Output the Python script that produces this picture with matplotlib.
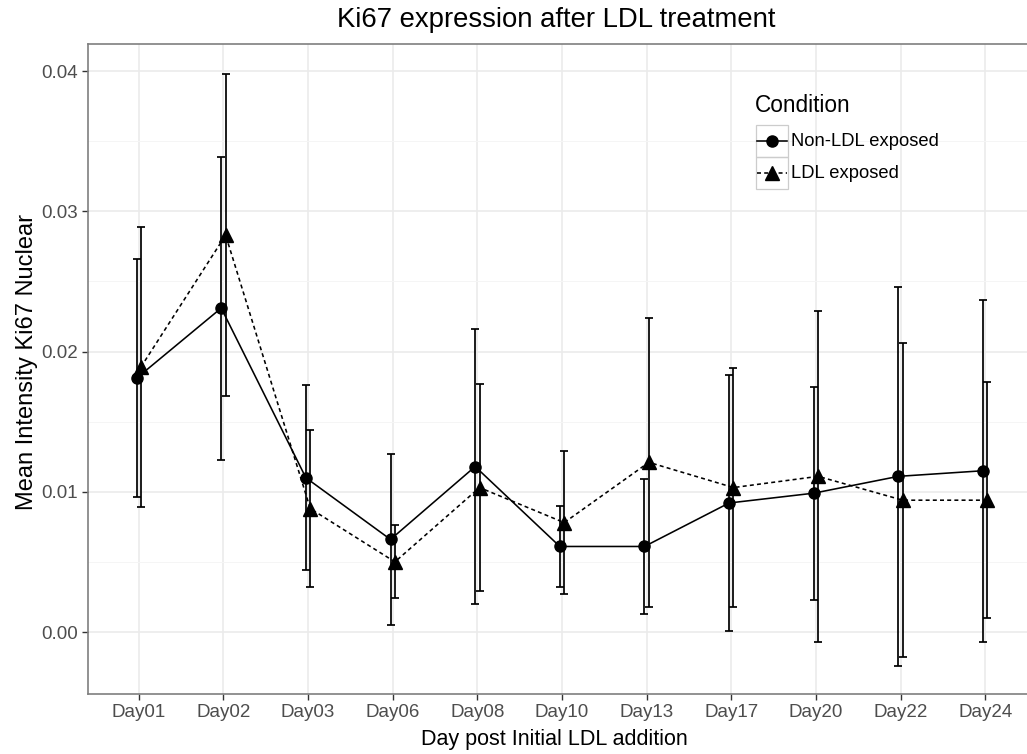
import numpy as np
import matplotlib.pyplot as plt
from matplotlib.lines import Line2D
from matplotlib.patches import Rectangle

plt.rcParams['font.family'] = ['Liberation Sans', 'DejaVu Sans']

# mean nuclear Ki67 intensity per day, with error bar half-widths
days = ['Day01', 'Day02', 'Day03', 'Day06', 'Day08', 'Day10',
        'Day13', 'Day17', 'Day20', 'Day22', 'Day24']
non_ldl_mean = [0.0181, 0.0231, 0.0110, 0.0066, 0.0118, 0.0061,
                0.0061, 0.0092, 0.0099, 0.0111, 0.0115]
non_ldl_err = [0.0085, 0.0108, 0.0066, 0.0061, 0.0098, 0.0029,
               0.0048, 0.0091, 0.0076, 0.0135, 0.0122]
ldl_mean = [0.0189, 0.0283, 0.0088, 0.0050, 0.0103, 0.0078,
            0.0121, 0.0103, 0.0111, 0.0094, 0.0094]
ldl_err = [0.0100, 0.0115, 0.0056, 0.0026, 0.0074, 0.0051,
           0.0103, 0.0085, 0.0118, 0.0112, 0.0084]

W, H = 1027, 754
fig = plt.figure(figsize=(W / 100, H / 100), dpi=100)
ax = fig.add_axes([88 / W, 60 / H, 948 / W, 650 / H])

x = np.arange(len(days))
dodge = 0.026
dash = (0, (2.5, 2))

ax.errorbar(x - dodge, non_ldl_mean, yerr=non_ldl_err, fmt='none',
            ecolor='black', elinewidth=1.25, capsize=3, capthick=1.25, zorder=3)
ax.errorbar(x + dodge, ldl_mean, yerr=ldl_err, fmt='none',
            ecolor='black', elinewidth=1.25, capsize=3, capthick=1.25, zorder=3)
ax.plot(x - dodge, non_ldl_mean, color='black', lw=1.15, marker='o', ms=8, zorder=4)
ax.plot(x + dodge, ldl_mean, color='black', lw=1.15, ls=dash, marker='^', ms=10, zorder=4)

ax.set_xlim(-0.6, 10.6)
ax.set_ylim(-0.00442, 0.04193)
ax.set_xticks(x)
ax.set_xticklabels(days)
ax.set_yticks([0.0, 0.01, 0.02, 0.03, 0.04])
ax.set_yticklabels(['0.00', '0.01', '0.02', '0.03', '0.04'])
ax.set_yticks([0.005, 0.015, 0.025, 0.035], minor=True)
ax.grid(which='major', color='#EBEBEB', lw=1.2)
ax.grid(which='minor', axis='y', color='#F5F5F5', lw=0.7)
ax.set_axisbelow(True)
ax.tick_params(which='major', length=4, width=1, color='#333333',
               labelcolor='#4D4D4D', labelsize=13.5, pad=3)
ax.tick_params(which='minor', length=0)
for s in ax.spines.values():
    s.set_color('#7F7F7F')
    s.set_linewidth(1.2)

ax.set_xlabel('Day post Initial LDL addition', fontsize=15.5)
ax.xaxis.set_label_coords((554 - 88) / 948, (694 - 740) / 650)
ax.xaxis.label.set_va('center')
ax.set_ylabel('Mean Intensity Ki67 Nuclear', fontsize=17)
ax.yaxis.set_label_coords((27 - 88) / 948, (694 - 362) / 650)
ax.yaxis.label.set_va('center')

fig.text(556 / W, 1 - 20 / H, 'Ki67 expression after LDL treatment',
         fontsize=19.8, ha='center', va='center')

# legend drawn in figure pixel positions
def px(px_x, px_y):
    return px_x / W, 1 - px_y / H

fig.text(*px(755, 105), 'Condition', fontsize=16.3, ha='left', va='center')
keys = [('Non-LDL exposed', '-', 'o', 8), ('LDL exposed', dash, '^', 10)]
for i, (label, ls, mk, ms) in enumerate(keys):
    top = 125 + i * 32
    fig.patches.append(Rectangle(px(756, top + 32), 32 / W, 32 / H,
                                 transform=fig.transFigure, fill=False,
                                 edgecolor='#CCCCCC', lw=0.9))
    xs = [px(757, 0)[0], px(772, 0)[0], px(787, 0)[0]]
    yk = px(0, top + 16)[1]
    fig.lines.append(Line2D(xs, [yk] * 3, transform=fig.transFigure,
                            color='black', lw=1.15, ls=ls, marker=mk, ms=ms,
                            markevery=[1]))
    fig.text(*px(791, top + 16), label, fontsize=13.2, ha='left', va='center')

fig.savefig('out.png', dpi=100)
